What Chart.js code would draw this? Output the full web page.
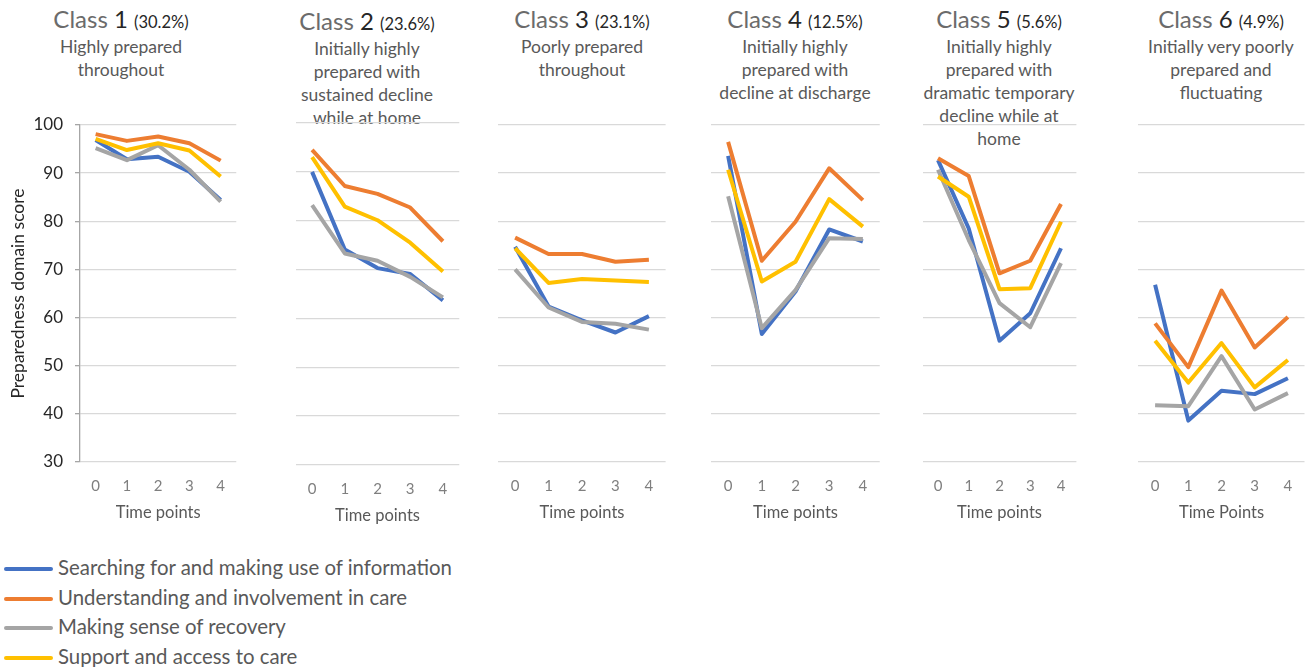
<!DOCTYPE html>
<html>
<head>
<meta charset="utf-8">
<script src="https://cdn.jsdelivr.net/npm/chart.js@4.4.0/dist/chart.umd.min.js"></script>
<style>
  body { margin: 0; background: #fff; }
  #wrap { position: relative; width: 1309px; height: 667px; overflow: hidden; font-family: Lato, "Open Sans", sans-serif; }
  #wrap canvas { position: absolute; }
  .title { position: absolute; width: 220px; text-align: center; color: #595959; }
  .head { font-size: 24px; line-height: 26px; white-space: nowrap; color: #6b6b6b; }
  .head b { font-weight: normal; color: #262626; }
  .head small { font-size: 16.5px; color: #262626; }
  .sub { margin-top: 0px; font-size: 17.5px; line-height: 23px; }
  .legend { position: absolute; left: 4px; top: 553px; color: #595959; font-size: 20.4px; }
  .legend div { height: 29.7px; line-height: 29.7px; white-space: nowrap; }
  .legend span { display: inline-block; width: 49px; height: 4px; border-radius: 2px; vertical-align: middle; margin-right: 5px; position: relative; top: -1px; }
</style>
</head>
<body>
<div id="wrap"></div>
<script>
const FONT = "Lato, 'Open Sans', sans-serif";

// categories / text
const timePoints = ["0", "1", "2", "3", "4"];
const seriesNames = [
  "Searching for and making use of information",
  "Understanding and involvement in care",
  "Making sense of recovery",
  "Support and access to care"
];
const classNumbers = ["1", "2", "3", "4", "5", "6"];
const classShares = ["(30.2%)", "(23.6%)", "(23.1%)", "(12.5%)", "(5.6%)", "(4.9%)"];
const classDescriptions = [
  ["Highly prepared", "throughout"],
  ["Initially highly", "prepared with", "sustained decline", "while at home"],
  ["Poorly prepared", "throughout"],
  ["Initially highly", "prepared with", "decline at discharge"],
  ["Initially highly", "prepared with", "dramatic temporary", "decline while at", "home"],
  ["Initially very poorly", "prepared and", "fluctuating"]
];
const xTitles = ["Time points", "Time points", "Time points", "Time points", "Time points", "Time Points"];
const yTicks = [30, 40, 50, 60, 70, 80, 90, 100];
const yTitle = "Preparedness domain score";

// values per class: [information, understanding, recovery, support]
const class1 = [
  [96.9, 92.9, 93.4, 90.3, 84.4],
  [98.1, 96.7, 97.6, 96.2, 92.6],
  [95.2, 92.7, 95.8, 90.7, 84.1],
  [97.1, 94.8, 96.2, 94.7, 89.3]
];
const class2 = [
  [90.0, 74.1, 70.3, 69.1, 63.7],
  [94.5, 87.1, 85.5, 82.7, 75.8],
  [83.2, 73.3, 71.8, 68.5, 64.3],
  [93.0, 82.9, 80.1, 75.5, 69.6]
];
const class3 = [
  [74.7, 62.3, 59.4, 56.9, 60.3],
  [76.6, 73.2, 73.2, 71.6, 72.0],
  [70.0, 62.1, 59.1, 58.7, 57.5],
  [74.4, 67.2, 68.0, 67.7, 67.4]
];
const class4 = [
  [93.6, 56.6, 65.4, 78.3, 75.8],
  [96.5, 71.8, 79.9, 91.0, 84.4],
  [85.2, 57.8, 65.7, 76.5, 76.3],
  [90.7, 67.5, 71.6, 84.6, 78.9]
];
const class5 = [
  [92.7, 78.5, 55.2, 60.9, 74.4],
  [93.1, 89.4, 69.2, 71.8, 83.6],
  [90.7, 76.1, 63.0, 58.0, 71.3],
  [89.3, 85.1, 65.9, 66.1, 79.9]
];
const class6 = [
  [66.8, 38.6, 44.8, 44.1, 47.4],
  [58.8, 49.7, 65.6, 53.8, 60.1],
  [41.8, 41.6, 52.0, 40.9, 44.3],
  [55.2, 46.5, 54.7, 45.5, 51.2]
];
const classValues = [class1, class2, class3, class4, class5, class6];

const seriesColors = ["#4472C4", "#ED7D31", "#A5A5A5", "#FFC000"];

// plot area of each panel on the page
const panelBoxes = [
  { left: 80, right: 240, top: 125, bottom: 462, axis: true, titleX: 121, dy: 0 },
  { left: 293, right: 462, top: 123, bottom: 465, axis: false, titleX: 367, dy: 2 },
  { left: 496, right: 668, top: 125, bottom: 462, axis: false, titleX: 582, dy: 0 },
  { left: 709, right: 882, top: 125, bottom: 462, axis: false, titleX: 795, dy: 0 },
  { left: 919, right: 1080, top: 125, bottom: 462, axis: false, titleX: 999, dy: 0 },
  { left: 1136, right: 1307, top: 125, bottom: 462, axis: false, titleX: 1221, dy: 0 }
];

const wrap = document.getElementById("wrap");

panelBoxes.forEach((box, p) => {
  // title block
  const t = document.createElement("div");
  t.className = "title";
  t.style.left = (box.titleX - 110) + "px";
  t.style.top = (6 + box.dy) + "px";
  const head = document.createElement("div");
  head.className = "head";
  head.innerHTML = "Class <b>" + classNumbers[p] + "</b> <small>" + classShares[p] + "</small>";
  const sub = document.createElement("div");
  sub.className = "sub";
  sub.innerHTML = classDescriptions[p].join("<br>");
  t.appendChild(head);
  t.appendChild(sub);
  wrap.appendChild(t);

  // chart canvas
  const padTop = 30, axisH = 65, yAxisW = box.axis ? 80 : 0;
  const cLeft = box.left - yAxisW, cTop = box.top - padTop;
  const cv = document.createElement("canvas");
  cv.width = box.right - cLeft;
  cv.height = box.bottom + axisH - cTop;
  cv.style.left = cLeft + "px";
  cv.style.top = cTop + "px";
  wrap.appendChild(cv);

  new Chart(cv, {
    type: "line",
    data: {
      labels: timePoints,
      datasets: seriesNames.map((name, i) => ({
        label: name,
        data: classValues[p][i],
        borderColor: seriesColors[i],
        backgroundColor: seriesColors[i],
        borderWidth: 4,
        pointRadius: 0,
        tension: 0,
        borderJoinStyle: "round",
        order: 4 - i
      }))
    },
    options: {
      responsive: false,
      animation: false,
      devicePixelRatio: 1,
      layout: { padding: { top: padTop, left: 0, right: 0, bottom: 0 } },
      plugins: { legend: { display: false }, tooltip: { enabled: false } },
      scales: {
        x: {
          offset: true,
          grid: { display: false, drawTicks: false },
          border: { display: false },
          ticks: { padding: 15, color: "#7f7f7f", font: { family: FONT, size: 15 } },
          title: {
            display: true, text: xTitles[p], color: "#595959",
            font: { family: FONT, size: 16.5 }, padding: { top: 0, bottom: 4 }
          },
          afterFit: (s) => { s.height = axisH; }
        },
        y: {
          min: yTicks[0],
          max: yTicks[yTicks.length - 1],
          afterBuildTicks: (s) => { s.ticks = yTicks.map(v => ({ value: v })); },
          ticks: { display: box.axis, padding: 12, color: "#262626", font: { family: FONT, size: 17 } },
          grid: { color: "#d9d9d9", lineWidth: 1.3, drawTicks: box.axis, tickLength: 5, tickColor: "#a6a6a6" },
          border: { display: box.axis, color: "#a6a6a6", width: 1.3 },
          title: {
            display: box.axis, text: yTitle, color: "#262626",
            font: { family: FONT, size: 17.5 }, padding: { top: 8, bottom: 0 }
          },
          afterFit: (s) => { s.width = yAxisW; }
        }
      }
    }
  });
});

// shared legend
const legend = document.createElement("div");
legend.className = "legend";
seriesNames.forEach((name, i) => {
  const row = document.createElement("div");
  const sw = document.createElement("span");
  sw.style.background = seriesColors[i];
  row.appendChild(sw);
  row.appendChild(document.createTextNode(name));
  legend.appendChild(row);
});
wrap.appendChild(legend);
</script>
</body>
</html>
